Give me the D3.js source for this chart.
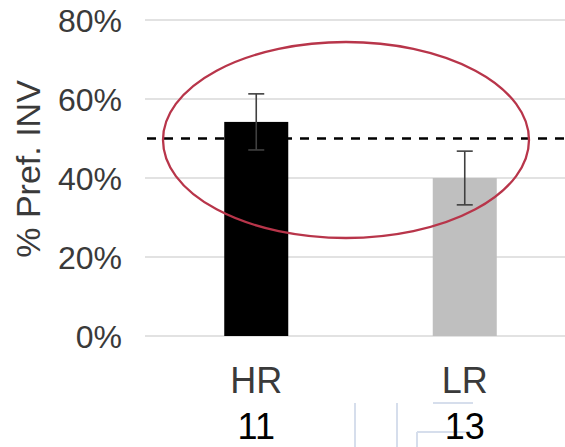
<!DOCTYPE html>
<html>
<head>
<meta charset="utf-8">
<script src="https://cdn.jsdelivr.net/npm/d3@7"></script>
<style>
  html, body { margin: 0; padding: 0; background: #fff; }
  svg { display: block; }
</style>
</head>
<body>
<svg id="chart" width="565" height="447"></svg>
<script>
// Preference for INV by group, with error bars and sample sizes
const categories = ["HR", "LR"];
const values = [0.542, 0.40];
const errors = [0.071, 0.068];
const sampleSizes = ["11", "13"];
const barColors = ["#000000", "#bfbfbf"];
const yTicks = [0, 0.2, 0.4, 0.6, 0.8];
const chanceLevel = 0.5;

const svg = d3.select("#chart");
const font = "Arial, 'Liberation Sans', sans-serif";

const x = d3.scaleBand()
  .domain(categories)
  .range([152, 569])
  .paddingInner(0.693)
  .paddingOuter(0.3465);

const y = d3.scaleLinear().domain([0, 0.8]).range([336, 20]);

// Horizontal gridlines
svg.append("g")
  .selectAll("line")
  .data(yTicks)
  .join("line")
  .attr("x1", 145).attr("x2", 565)
  .attr("y1", d => y(d)).attr("y2", d => y(d))
  .attr("stroke", "#d9d9d9")
  .attr("stroke-width", 1.6);

// Y axis tick labels
const yAxis = d3.axisLeft(y).tickValues(yTicks).tickFormat(d3.format(".0%")).tickSize(0).tickPadding(0);
const yg = svg.append("g").attr("transform", "translate(122,0)").call(yAxis);
yg.select(".domain").remove();
yg.selectAll("text")
  .attr("font-family", font)
  .attr("font-size", 32)
  .attr("fill", "#3a3a3a")
  .attr("dy", "0.35em")
  .attr("x", 0);

// Y axis title
svg.append("text")
  .attr("transform", "translate(40,169) rotate(-90)")
  .attr("text-anchor", "middle")
  .attr("font-family", font)
  .attr("font-size", 34)
  .attr("fill", "#3a3a3a")
  .text("% Pref. INV");

// Bars
svg.append("g")
  .selectAll("rect")
  .data(categories)
  .join("rect")
  .attr("x", d => x(d))
  .attr("width", x.bandwidth())
  .attr("y", (d, i) => y(values[i]))
  .attr("height", (d, i) => y(0) - y(values[i]))
  .attr("fill", (d, i) => barColors[i]);

// Chance level (dashed)
svg.append("line")
  .attr("x1", 147).attr("x2", 565)
  .attr("y1", y(chanceLevel)).attr("y2", y(chanceLevel))
  .attr("stroke", "#000")
  .attr("stroke-width", 2.5)
  .attr("stroke-dasharray", "9,8");

// Error bars
const eb = svg.append("g").attr("stroke", "#404040").attr("stroke-width", 1.6);
categories.forEach((c, i) => {
  const cx = x(c) + x.bandwidth() / 2;
  const hi = y(values[i] + errors[i]);
  const lo = y(values[i] - errors[i]);
  eb.append("line").attr("x1", cx).attr("x2", cx).attr("y1", hi).attr("y2", lo);
  eb.append("line").attr("x1", cx - 8).attr("x2", cx + 8).attr("y1", hi).attr("y2", hi);
  eb.append("line").attr("x1", cx - 8).attr("x2", cx + 8).attr("y1", lo).attr("y2", lo);
});

// Category labels
svg.append("g")
  .selectAll("text")
  .data(categories)
  .join("text")
  .attr("x", d => x(d) + x.bandwidth() / 2)
  .attr("y", 393)
  .attr("text-anchor", "middle")
  .attr("font-family", font)
  .attr("font-size", 36)
  .attr("fill", "#3a3a3a")
  .text(d => d);

// Faint table borders beneath the chart
const borders = [
  [355, 403, 355, 447],
  [397, 403, 397, 447],
  [433, 403, 473, 403],
  [417, 432, 417, 447],
  [417, 432, 470, 432]
];
svg.append("g")
  .selectAll("line")
  .data(borders)
  .join("line")
  .attr("x1", d => d[0]).attr("y1", d => d[1])
  .attr("x2", d => d[2]).attr("y2", d => d[3])
  .attr("stroke", "#d6deec")
  .attr("stroke-width", 2);

// Sample sizes
svg.append("g")
  .selectAll("text")
  .data(categories)
  .join("text")
  .attr("x", d => x(d) + x.bandwidth() / 2)
  .attr("y", 439)
  .attr("text-anchor", "middle")
  .attr("font-family", font)
  .attr("font-size", 36)
  .attr("fill", "#000")
  .text((d, i) => sampleSizes[i]);

// Highlight ellipse
svg.append("ellipse")
  .attr("cx", 346).attr("cy", 140)
  .attr("rx", 183).attr("ry", 98)
  .attr("fill", "none")
  .attr("stroke", "#b8354a")
  .attr("stroke-width", 2.3);
</script>
</body>
</html>
